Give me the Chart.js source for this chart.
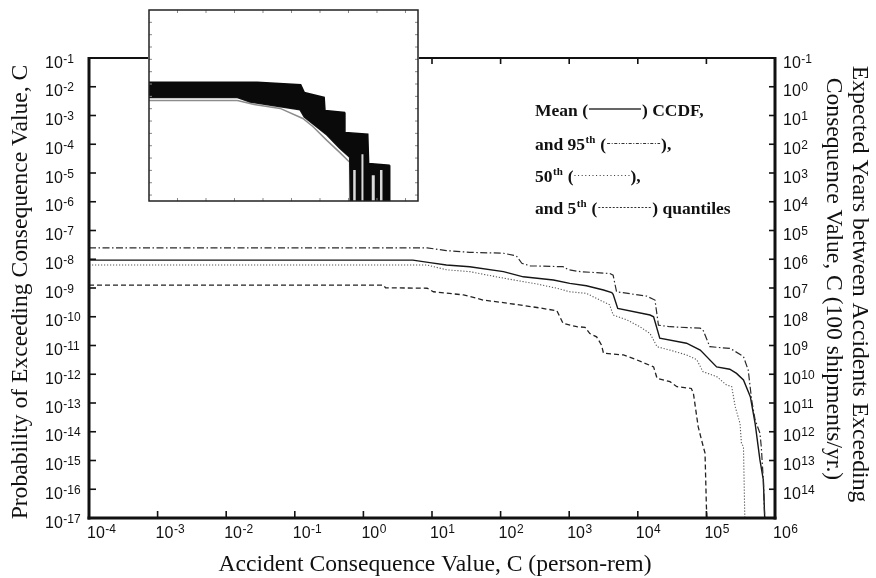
<!DOCTYPE html>
<html>
<head>
<meta charset="utf-8">
<script src="https://cdn.jsdelivr.net/npm/chart.js@4.4.0/dist/chart.umd.min.js"></script>
<style>
  html, body { margin: 0; padding: 0; background: #fff; }
  #wrap { position: relative; width: 876px; height: 578px; }
  #main { position: absolute; left: 0; top: 0; background: #fff; }
  #inset { position: absolute; left: 148px; top: 9px; background: #fff; }
</style>
</head>
<body>
<div id="wrap">
  <canvas id="main" width="876" height="578"></canvas>
  <canvas id="inset" width="271" height="193"></canvas>
</div>
<script>
// tick exponents (labels are drawn as 10^exp)
const xTickExps = [-4, -3, -2, -1, 0, 1, 2, 3, 4, 5, 6];
const yTickExps = [-17, -16, -15, -14, -13, -12, -11, -10, -9, -8, -7, -6, -5, -4, -3, -2, -1];
const yearTickExps = [-1, 0, 1, 2, 3, 4, 5, 6, 7, 8, 9, 10, 11, 12, 13, 14];

// Mean CCDF (person-rem vs probability)
const meanX = [1e-4, 5.25, 9.3, 16.2, 35.5, 110, 214, 589, 1020, 1780, 3160, 4170, 4370, 5100, 15100, 17000, 20900, 51300, 81300, 141000, 219000, 275000, 347000, 437000, 513000, 603000, 676000, 708000];
const meanY = [9.3e-9, 9.3e-9, 7.6e-9, 6.3e-9, 5.5e-9, 3.7e-9, 2.45e-9, 1.9e-9, 1.45e-9, 1.2e-9, 8.5e-10, 6.9e-10, 6.0e-10, 1.95e-10, 1.15e-10, 1.0e-10, 1.8e-11, 1.2e-11, 6.9e-12, 1.8e-12, 1.5e-12, 1.07e-12, 6.3e-13, 1.66e-13, 1.95e-14, 1.05e-15, 2.1e-16, 1e-17];

// 95th quantile
const p95X = [1e-4, 8.5, 16.2, 35.5, 110, 170, 204, 270, 813, 977, 1445, 3890, 4370, 4900, 13500, 17800, 20000, 29500, 81300, 89100, 112000, 219000, 245000, 347000, 407000, 457000, 513000, 603000, 631000, 676000, 708000];
const p95Y = [2.5e-8, 2.5e-8, 2.0e-8, 1.74e-8, 1.62e-8, 1.3e-8, 7.2e-9, 5.9e-9, 5.5e-9, 4.3e-9, 3.7e-9, 3.2e-9, 2.8e-9, 7.4e-10, 5.2e-10, 3.8e-10, 5.1e-11, 4.5e-11, 4.0e-11, 3.5e-11, 9.1e-12, 7.9e-12, 6.9e-12, 4.1e-12, 1.4e-12, 1.26e-13, 2.6e-14, 8.9e-15, 3.0e-15, 2.1e-16, 1e-17];

// 50th quantile
const p50X = [1e-4, 8.5, 16.2, 35.5, 110, 339, 661, 1020, 1780, 3160, 3890, 4370, 6920, 10700, 15100, 19100, 29500, 51300, 72400, 89100, 141000, 195000, 234000, 263000, 309000, 324000, 347000, 363000];
const p50Y = [6.3e-9, 6.3e-9, 4.3e-9, 3.7e-9, 2.2e-9, 1.38e-9, 9.8e-10, 7.4e-10, 6.5e-10, 3.3e-10, 2.6e-10, 1.15e-10, 7.8e-11, 4.5e-11, 2.6e-11, 9.1e-12, 6.9e-12, 4.7e-12, 3.2e-12, 1.23e-12, 8.3e-13, 4.3e-13, 3.7e-13, 7.4e-14, 1.95e-14, 4.0e-15, 3.0e-15, 1e-17];

// 5th quantile
const p5X = [1e-4, 1.95, 2.1, 8.5, 10.5, 28.8, 56, 110, 339, 661, 813, 1290, 1700, 2000, 2510, 2950, 3160, 6170, 9550, 17000, 19100, 29500, 37200, 60300, 64600, 75900, 85100, 95500, 100000, 102000];
const p5Y = [1.26e-9, 1.26e-9, 1.02e-9, 9.8e-10, 7.4e-10, 5.75e-10, 3.8e-10, 3.1e-10, 2.1e-10, 1.62e-10, 5.9e-11, 4.5e-11, 4.3e-11, 2.6e-11, 2.0e-11, 1.05e-11, 5.4e-12, 4.7e-12, 3.2e-12, 1.8e-12, 7.2e-13, 5.5e-13, 3.7e-13, 3.2e-13, 2.2e-13, 1.5e-14, 5.1e-15, 1.8e-15, 2.5e-17, 1e-17];

// inset: upper and lower edges of the band of sampled CCDFs
const insetUpperX = [1e-4, 0.63, 21, 28, 140, 150, 720, 750, 4750, 5100, 26500, 28000];
const insetUpperY = [1.38e-7, 1.38e-7, 8.8e-8, 2.1e-8, 8.2e-9, 7.1e-10, 4.9e-10, 1.2e-11, 8.5e-12, 3.6e-14, 2.6e-14, 1e-17];
const insetLowerX = [1e-4, 0.126, 0.355, 3.2, 20, 28, 174, 490, 1100, 1200, 28000];
const insetLowerY = [7.9e-9, 7.9e-9, 3.5e-9, 1.6e-9, 8.2e-10, 2.1e-10, 7.4e-12, 6.3e-13, 1.15e-13, 1e-17, 1e-17];
// lighter curve at the lower fringe, and light gaps between the final drops
const insetFringeX = [1e-4, 0.126, 0.49, 4, 25, 56, 174, 490, 1100, 1100];
const insetFringeY = [4.6e-9, 4.6e-9, 2.2e-9, 1.05e-9, 1.6e-10, 3.6e-11, 2.7e-12, 2.9e-13, 4.6e-14, 1e-17];
const insetGapAX = [1620, 1620];
const insetGapAY = [1.05e-14, 1e-17];
const insetGapBX = [3090, 3090];
const insetGapBY = [2.0e-13, 1e-17];
const insetGapCX = [7400, 7400];
const insetGapCY = [4.1e-15, 1e-17];
const insetGapDX = [14100, 14100];
const insetGapDY = [1.05e-14, 1e-17];
const insetXTickExps = [-3, -2, -1, 0, 1, 2, 3, 4, 5];
const insetYTickExps = [-16, -15, -14, -13, -12, -11, -10, -9, -8, -7, -6, -5, -4, -3, -2];

const toPts = (xs, ys) => xs.map((v, i) => ({ x: v, y: ys[i] }));

const SANS = '"Liberation Sans", Arial, sans-serif';
const SERIF = '"Liberation Serif", "Times New Roman", serif';

function drawSci(ctx, exp, left, baseline) {
  ctx.textAlign = 'left';
  ctx.textBaseline = 'alphabetic';
  ctx.font = '16px ' + SANS;
  ctx.fillText('10', left, baseline);
  const w = ctx.measureText('10').width;
  ctx.font = '12px ' + SANS;
  ctx.fillText(String(exp), left + w + 0.5, baseline - 5);
}

function seg(ctx, x1, y1, x2, y2) {
  ctx.beginPath();
  ctx.moveTo(x1, y1);
  ctx.lineTo(x2, y2);
  ctx.stroke();
}

const legendRows = [
  [{ t: 'Mean (' }, { line: [], len: 54 }, { t: ') CCDF,' }],
  [{ t: 'and 95' }, { sup: 'th' }, { t: ' (' }, { line: [3, 1.6, 1, 1.6], len: 55 }, { t: '),' }],
  [{ t: '50' }, { sup: 'th' }, { t: ' (' }, { line: [1, 2.6], len: 57 }, { t: '),' }],
  [{ t: 'and 5' }, { sup: 'th' }, { t: ' (' }, { line: [2, 1.6], len: 55 }, { t: ') quantiles' }]
];
const legendBaselines = [115.5, 150, 182, 214];

const mainDecor = {
  id: 'mainDecor',
  afterDraw(chart) {
    const ctx = chart.ctx;
    const a = chart.chartArea;
    const xs = chart.scales.x, ys = chart.scales.y, yr = chart.scales.yYears;
    ctx.save();
    ctx.fillStyle = '#111';
    ctx.strokeStyle = '#111';

    // inner tick marks
    ctx.lineWidth = 1.6;
    xTickExps.forEach(e => {
      const px = xs.getPixelForValue(Math.pow(10, e));
      if (px > a.left + 2 && px < a.right - 2) {
        seg(ctx, px, a.bottom, px, a.bottom - 7);
        seg(ctx, px, a.top, px, a.top + 6);
      }
    });
    yTickExps.forEach(e => {
      const py = ys.getPixelForValue(Math.pow(10, e));
      if (py > a.top + 2 && py < a.bottom - 2) seg(ctx, a.left, py, a.left + 7, py);
    });
    yearTickExps.forEach(e => {
      const py = yr.getPixelForValue(Math.pow(10, e));
      if (py > a.top + 2 && py < a.bottom - 2) seg(ctx, a.right, py, a.right - 6, py);
    });

    // frame
    ctx.lineWidth = 2;
    seg(ctx, a.left - 1, a.top, a.right + 1, a.top);
    ctx.lineWidth = 3;
    seg(ctx, a.left, a.top - 1, a.left, a.bottom + 1.5);
    seg(ctx, a.left - 1.5, a.bottom, a.right + 1.5, a.bottom);
    seg(ctx, a.right, a.top - 1, a.right, a.bottom + 1.5);

    // tick labels
    xTickExps.forEach(e => drawSci(ctx, e, xs.getPixelForValue(Math.pow(10, e)) - 2, 538));
    yTickExps.forEach(e => drawSci(ctx, e, 45, ys.getPixelForValue(Math.pow(10, e)) + 9.5));
    yearTickExps.forEach(e => drawSci(ctx, e, 783, yr.getPixelForValue(Math.pow(10, e)) + 9.5));

    // axis titles
    ctx.font = '23.6px ' + SERIF;
    ctx.textAlign = 'center';
    ctx.textBaseline = 'middle';
    ctx.fillText('Accident Consequence Value, C (person-rem)', 435, 565);
    ctx.save();
    ctx.translate(21, 292);
    ctx.rotate(-Math.PI / 2);
    ctx.fillText('Probability of Exceeding Consequence Value, C', 0, 0);
    ctx.restore();
    ctx.save();
    ctx.translate(859, 284);
    ctx.rotate(Math.PI / 2);
    ctx.fillText('Expected Years between Accidents Exceeding', 0, 0);
    ctx.restore();
    ctx.save();
    ctx.translate(833, 279);
    ctx.rotate(Math.PI / 2);
    ctx.fillText('Consequence Value, C (100 shipments/yr.)', 0, 0);
    ctx.restore();

    // legend text block
    ctx.textAlign = 'left';
    ctx.textBaseline = 'alphabetic';
    legendRows.forEach((row, i) => {
      const base = legendBaselines[i];
      let cx = 535;
      row.forEach(p => {
        if (p.t) {
          ctx.font = 'bold 17.5px ' + SERIF;
          ctx.fillText(p.t, cx, base);
          cx += ctx.measureText(p.t).width;
        } else if (p.sup) {
          ctx.font = 'bold 11px ' + SERIF;
          ctx.fillText(p.sup, cx + 0.5, base - 7.5);
          cx += ctx.measureText(p.sup).width + 1;
        } else if (p.line) {
          ctx.save();
          ctx.lineWidth = p.line.length ? 1.1 : 1.3;
          ctx.strokeStyle = '#333';
          ctx.setLineDash(p.line);
          seg(ctx, cx + 1, base - 6.5, cx + p.len - 1, base - 6.5);
          ctx.restore();
          cx += p.len;
        }
      });
    });
    ctx.restore();
  }
};

const logAxis = (extra) => Object.assign({
  type: 'logarithmic',
  ticks: { display: false },
  grid: { display: false, drawTicks: false },
  border: { display: false }
}, extra);

new Chart(document.getElementById('main'), {
  type: 'scatter',
  data: {
    datasets: [
      { label: '95th', data: toPts(p95X, p95Y), showLine: true, pointRadius: 0, borderColor: '#2a2a2a', borderWidth: 1.2, borderDash: [7, 2.5, 1.5, 2.5] },
      { label: 'Mean', data: toPts(meanX, meanY), showLine: true, pointRadius: 0, borderColor: '#161616', borderWidth: 1.4 },
      { label: '50th', data: toPts(p50X, p50Y), showLine: true, pointRadius: 0, borderColor: '#555', borderWidth: 1.1, borderDash: [1.2, 1.8] },
      { label: '5th', data: toPts(p5X, p5Y), showLine: true, pointRadius: 0, borderColor: '#222', borderWidth: 1.3, borderDash: [5, 3] }
    ]
  },
  options: {
    responsive: false,
    animation: false,
    layout: { padding: { left: 89, right: 101, top: 58, bottom: 60 } },
    plugins: { legend: { display: false }, tooltip: { enabled: false } },
    scales: {
      x: logAxis({ position: 'bottom', min: 1e-4, max: 1e6,
        afterBuildTicks: s => { s.ticks = xTickExps.map(e => ({ value: Math.pow(10, e) })); },
        afterFit: s => { s.height = 0; } }),
      y: logAxis({ position: 'left', min: 1e-17, max: 1e-1,
        afterBuildTicks: s => { s.ticks = yTickExps.map(e => ({ value: Math.pow(10, e) })); },
        afterFit: s => { s.width = 0; } }),
      yYears: logAxis({ position: 'right', reverse: true, min: 1e-1, max: 1e15,
        afterBuildTicks: s => { s.ticks = yearTickExps.map(e => ({ value: Math.pow(10, e) })); },
        afterFit: s => { s.width = 0; } })
    }
  },
  plugins: [mainDecor]
});

const insetDecor = {
  id: 'insetDecor',
  afterDraw(chart) {
    const ctx = chart.ctx;
    const a = chart.chartArea;
    const xs = chart.scales.x, ys = chart.scales.y;
    ctx.save();
    ctx.strokeStyle = '#888';
    ctx.lineWidth = 1;
    insetXTickExps.forEach(e => {
      const px = xs.getPixelForValue(Math.pow(10, e));
      seg(ctx, px, a.top, px, a.top + 3);
      seg(ctx, px, a.bottom, px, a.bottom - 3);
    });
    insetYTickExps.forEach(e => {
      const py = ys.getPixelForValue(Math.pow(10, e));
      seg(ctx, a.left, py, a.left + 3, py);
      seg(ctx, a.right, py, a.right - 3, py);
    });
    ctx.strokeStyle = '#222';
    ctx.lineWidth = 1.5;
    ctx.strokeRect(a.left, a.top, a.right - a.left, a.bottom - a.top);
    ctx.restore();
  }
};

const trace = (xs, ys, color, w, order) => ({ data: toPts(xs, ys), showLine: true, pointRadius: 0, borderColor: color, borderWidth: w, order: order });
const GAP = 'rgba(255,255,255,0.85)';

new Chart(document.getElementById('inset'), {
  type: 'scatter',
  data: {
    datasets: [
      Object.assign(trace(insetUpperX, insetUpperY, '#0a0a0a', 1.5, 2), { fill: '+1', backgroundColor: '#0a0a0a' }),
      trace(insetLowerX, insetLowerY, '#1a1a1a', 1.5, 3),
      trace(insetFringeX, insetFringeY, 'rgba(0,0,0,0.45)', 1.5, 4),
      trace(insetGapAX, insetGapAY, GAP, 2.5, 0),
      trace(insetGapBX, insetGapBY, GAP, 2, 0),
      trace(insetGapCX, insetGapCY, GAP, 3, 0),
      trace(insetGapDX, insetGapDY, GAP, 2.5, 0)
    ]
  },
  options: {
    responsive: false,
    animation: false,
    layout: { padding: { left: 1, right: 1, top: 1, bottom: 1 } },
    plugins: { legend: { display: false }, tooltip: { enabled: false } },
    scales: {
      x: logAxis({ position: 'bottom', min: 1e-4, max: 2.75e5, afterFit: s => { s.height = 0; } }),
      y: logAxis({ position: 'left', min: 3.3e-17, max: 1e-1, afterFit: s => { s.width = 0; } })
    }
  },
  plugins: [insetDecor]
});
</script>
</body>
</html>
